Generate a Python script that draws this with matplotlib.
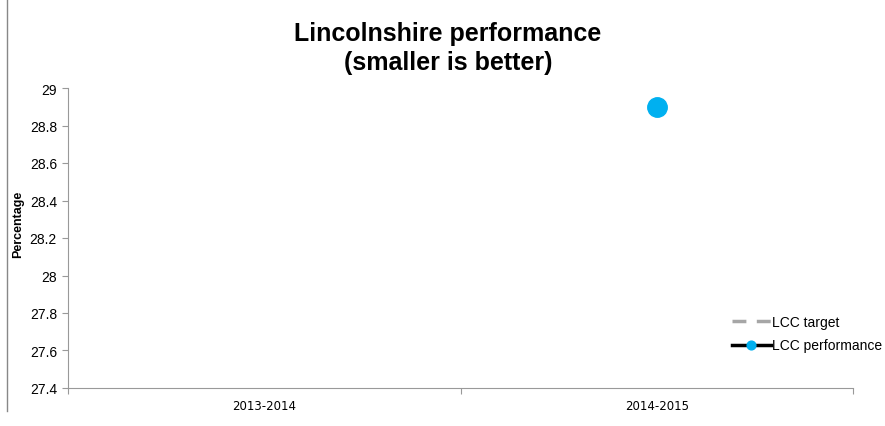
import matplotlib
matplotlib.use('Agg')
import matplotlib.pyplot as plt
import numpy as np

plt.rcParams['font.family'] = ['Liberation Sans', 'DejaVu Sans']

# data
years = ['2013-2014', '2014-2015']
lcc_target = [np.nan, np.nan]
lcc_performance = [np.nan, 28.9]

fig = plt.figure(figsize=(8.85, 4.27), dpi=100)
ax = fig.add_axes([68/885, 38/427, 785/885, 300/427])

x = np.arange(len(years))
ax.plot(x, lcc_target, color='#a6a6a6', linestyle=(0, (4, 3)), linewidth=2.5, label='LCC target')
ax.plot(x, lcc_performance, color='black', linewidth=2.5, marker='o',
        markersize=14, markerfacecolor='#00b0f0', markeredgecolor='#00b0f0',
        label='LCC performance')

ax.set_xlim(-0.5, len(years) - 0.5)
ax.set_ylim(27.4, 29)
ax.set_yticks(np.arange(27.4, 29.01, 0.2))
ax.set_yticklabels(['27.4', '27.6', '27.8', '28', '28.2', '28.4', '28.6', '28.8', '29'], fontsize=10)

# category boundaries carry the ticks, labels sit in between
ax.set_xticks([-0.5, 0.5, 1.5])
ax.set_xticklabels([])
ax.set_xticks(x, minor=True)
ax.set_xticklabels(years, minor=True, fontsize=8.5,
                   family=['Liberation Sans Narrow', 'DejaVu Sans'])
ax.tick_params(axis='x', which='minor', length=0, pad=8)
ax.tick_params(axis='x', which='major', length=4, color='#999999')
ax.tick_params(axis='y', length=4, color='#999999', pad=4)

for s in ['top', 'right']:
    ax.spines[s].set_visible(False)
for s in ['left', 'bottom']:
    ax.spines[s].set_color('#999999')

ax.set_ylabel('Percentage', fontsize=9, fontweight='bold')
ax.yaxis.set_label_coords(-0.056, 0.55)

fig.text(448/885, 1 - 48.5/427, 'Lincolnshire performance\n(smaller is better)',
         ha='center', va='center', fontsize=18, fontweight='bold', linespacing=1.3)

leg = ax.legend(loc='lower right', bbox_to_anchor=(1.053, 0.077), frameon=False, fontsize=10,
                handlelength=2.8, handletextpad=0.1, labelspacing=0.7, markerscale=0.45)

# chart area border fragment on the left
fig.add_artist(plt.Line2D([7/885, 7/885], [1 - 412/427, 1.0], color='#888888', linewidth=1))

plt.savefig('out.png', dpi=100)
print("out.png saved")
